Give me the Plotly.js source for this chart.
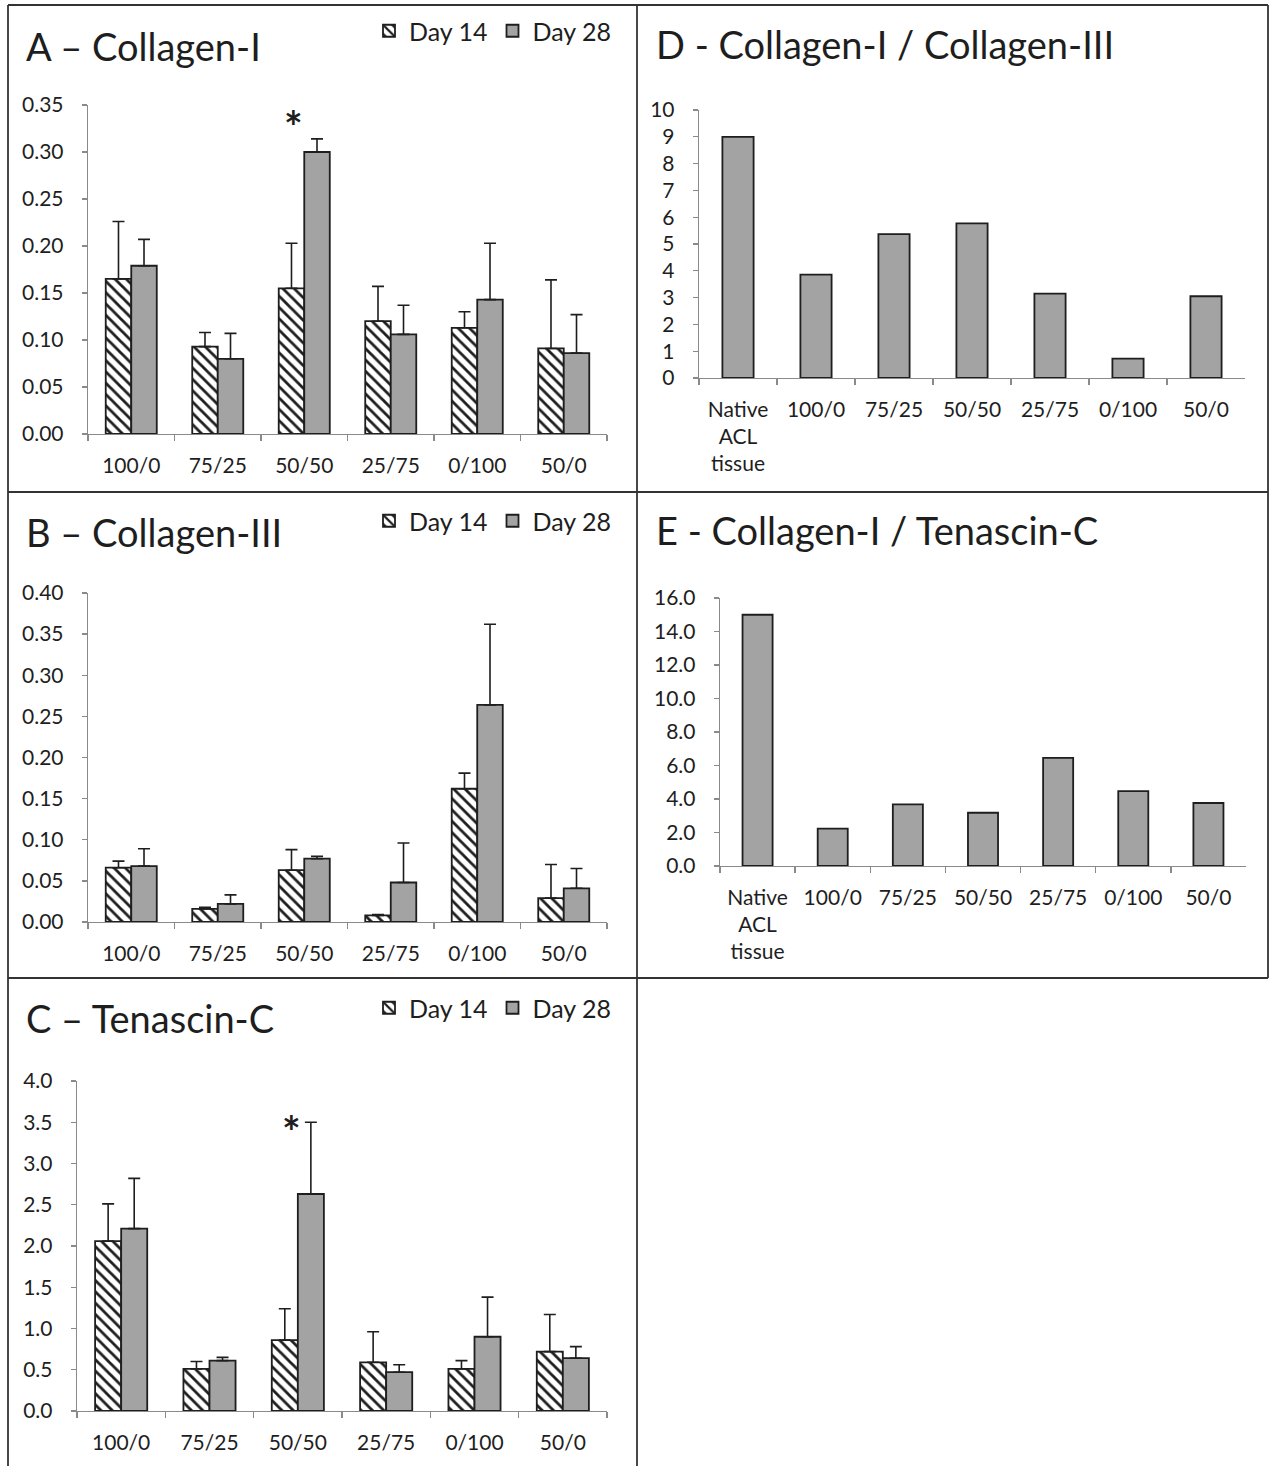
<!DOCTYPE html>
<html>
<head>
<meta charset="utf-8">
<script src="https://cdn.plot.ly/plotly-3.0.1.min.js"></script>
<style>
html,body{margin:0;padding:0;background:#fff;}
#chart{width:1269px;height:1466px;}
</style>
</head>
<body>
<div id="chart"></div>
<script>
// ---------- DATA ----------
const groups = ["100/0", "75/25", "50/50", "25/75", "0/100", "50/0"];
const ratioGroups = ["Native<br>ACL<br>tissue", "100/0", "75/25", "50/50", "25/75", "0/100", "50/0"];
const seriesNames = ["Day 14", "Day 28"];

// A - Collagen-I
const colI_day14 = [0.165, 0.093, 0.155, 0.120, 0.113, 0.091];
const colI_day14_sd = [0.061, 0.015, 0.048, 0.037, 0.017, 0.073];
const colI_day28 = [0.179, 0.080, 0.300, 0.106, 0.143, 0.086];
const colI_day28_sd = [0.028, 0.027, 0.014, 0.031, 0.060, 0.041];

// B - Collagen-III
const colIII_day14 = [0.066, 0.016, 0.063, 0.008, 0.162, 0.029];
const colIII_day14_sd = [0.008, 0.002, 0.025, 0.001, 0.019, 0.041];
const colIII_day28 = [0.068, 0.022, 0.077, 0.048, 0.264, 0.041];
const colIII_day28_sd = [0.021, 0.011, 0.003, 0.048, 0.098, 0.024];

// C - Tenascin-C
const tnc_day14 = [2.06, 0.51, 0.86, 0.59, 0.51, 0.72];
const tnc_day14_sd = [0.45, 0.09, 0.38, 0.37, 0.10, 0.45];
const tnc_day28 = [2.21, 0.61, 2.63, 0.47, 0.90, 0.64];
const tnc_day28_sd = [0.61, 0.04, 0.87, 0.09, 0.48, 0.14];

// D - Collagen-I / Collagen-III
const ratio_colI_colIII = [9.0, 3.86, 5.37, 5.77, 3.15, 0.72, 3.05];
// E - Collagen-I / Tenascin-C
const ratio_colI_tnc = [15.0, 2.23, 3.68, 3.18, 6.46, 4.47, 3.76];

// significance markers: [group, value]
const sigA = ["50/50", 0.336];
const sigC = ["50/50", 3.49];

const panelTitles = ["A – Collagen-I", "B – Collagen-III", "C – Tenascin-C",
  "D - Collagen-I / Collagen-III", "E - Collagen-I / Tenascin-C"];

// ---------- STYLE / LAYOUT ----------
const W = 1269, H = 1466;
const FONT = "Lato, 'Open Sans', sans-serif";
const TXT = "#1e1e1e";
const AXC = "#8a8a8a";
const GRAY = "#a3a3a3";
const EDGE = "#1e1e1e";
const px = v => v / W;
const py = v => 1 - v / H;

function zeros(n){ return new Array(n).fill(0); }

function dayTraces(xa, ya, d14, sd14, d28, sd28, leg, showLeg){
  const err = sd => ({type:"data", symmetric:false, array:sd, arrayminus:zeros(sd.length),
                      color:EDGE, thickness:1.6, width:6});
  return [
    {type:"bar", name:seriesNames[0], x:groups, y:d14, xaxis:xa, yaxis:ya, legend:leg,
     showlegend:showLeg,
     marker:{color:"#ffffff", line:{color:EDGE, width:1.8},
             pattern:{shape:"\\", fgcolor:"#1e1e1e", bgcolor:"#ffffff", size:8, solidity:0.35}},
     error_y:err(sd14), hoverinfo:"x+y"},
    {type:"bar", name:seriesNames[1], x:groups, y:d28, xaxis:xa, yaxis:ya, legend:leg,
     showlegend:showLeg,
     marker:{color:GRAY, line:{color:EDGE, width:1.8}},
     error_y:err(sd28), hoverinfo:"x+y"}
  ];
}

function ratioTrace(xa, ya, vals){
  return {type:"bar", x:ratioGroups, y:vals, xaxis:xa, yaxis:ya, width:0.4, showlegend:false,
          marker:{color:GRAY, line:{color:EDGE, width:1.8}}, hoverinfo:"y"};
}

const data = [].concat(
  dayTraces("x", "y", colI_day14, colI_day14_sd, colI_day28, colI_day28_sd, "legend", true),
  dayTraces("x2", "y2", colIII_day14, colIII_day14_sd, colIII_day28, colIII_day28_sd, "legend2", true),
  dayTraces("x3", "y3", tnc_day14, tnc_day14_sd, tnc_day28, tnc_day28_sd, "legend3", true),
  [ratioTrace("x4", "y4", ratio_colI_colIII), ratioTrace("x5", "y5", ratio_colI_tnc)]
);

function xAx(dom, anchor){
  return {domain:dom, anchor:anchor, type:"category", showline:true, linecolor:AXC, linewidth:1.3,
          ticks:"outside", tickson:"boundaries", ticklen:6, tickcolor:AXC, tickwidth:1.3,
          ticklabelstandoff:12, showgrid:false, zeroline:false, fixedrange:true,
          tickfont:{family:FONT, size:21, color:TXT}};
}
function yAx(dom, anchor, range, dtick, fmt){
  return {domain:dom, anchor:anchor, range:range, dtick:dtick, tick0:0, tickformat:fmt,
          showline:true, linecolor:AXC, linewidth:1.3, ticks:"outside", ticklen:5, tickcolor:AXC,
          tickwidth:1.3, ticklabelstandoff:14, showgrid:false, zeroline:false, fixedrange:true,
          tickfont:{family:FONT, size:21, color:TXT}};
}

const legendBase = (yc) => ({orientation:"h", x:px(369), y:py(yc), xanchor:"left", yanchor:"middle",
  font:{family:FONT, size:25, color:TXT}, bgcolor:"rgba(0,0,0,0)", borderwidth:0,
  itemclick:false, itemdoubleclick:false, traceorder:"normal"});

// panel frame lines (pixel positions)
const frameLines = [
  [8, 5, 1268, 5], [8, 5, 8, 1466], [637, 5, 637, 1466], [1268, 5, 1268, 978],
  [8, 492, 1268, 492], [8, 978, 1268, 978]
];
const shapes = frameLines.map(l => ({type:"line", xref:"paper", yref:"paper",
  x0:px(l[0]), y0:py(l[1]), x1:px(l[2]), y1:py(l[3]), line:{color:"#333333", width:1.8}}));

const titlePos = [[24, 46], [24, 532], [24, 1018], [654, 44], [654, 530]];
const annotations = panelTitles.map((t, i) => ({text:t, xref:"paper", yref:"paper",
  x:px(titlePos[i][0]), y:py(titlePos[i][1]), xanchor:"left", yanchor:"middle", showarrow:false,
  font:{family:FONT, size:38, color:TXT}}));
annotations.push({text:"<b>*</b>", xref:"x", yref:"y", x:sigA[0], y:sigA[1], xshift:-11, yshift:-8,
  showarrow:false, font:{family:FONT, size:44, color:TXT}});
annotations.push({text:"<b>*</b>", xref:"x3", yref:"y3", x:sigC[0], y:sigC[1], xshift:-6, yshift:-8,
  showarrow:false, font:{family:FONT, size:44, color:TXT}});

const layout = {
  width:W, height:H, margin:{l:0, r:0, t:0, b:0, pad:0},
  paper_bgcolor:"#ffffff", plot_bgcolor:"#ffffff",
  barmode:"group", bargap:0.41, bargroupgap:0,
  font:{family:FONT, color:TXT},
  xaxis: xAx([px(88), px(607)], "y"),
  yaxis: yAx([py(434), py(105)], "x", [0, 0.35], 0.05, ".2f"),
  xaxis2: xAx([px(88), px(607)], "y2"),
  yaxis2: yAx([py(922), py(593)], "x2", [0, 0.40], 0.05, ".2f"),
  xaxis3: xAx([px(77), px(607)], "y3"),
  yaxis3: yAx([py(1411), py(1081)], "x3", [0, 4.0], 0.5, ".1f"),
  xaxis4: xAx([px(699), px(1245)], "y4"),
  yaxis4: yAx([py(378), py(110)], "x4", [0, 10], 1, "d"),
  xaxis5: xAx([px(720), px(1246)], "y5"),
  yaxis5: yAx([py(866), py(598)], "x5", [0, 16], 2, ".1f"),
  legend: legendBase(31),
  legend2: legendBase(521),
  legend3: legendBase(1008),
  shapes: shapes,
  annotations: annotations
};

Plotly.newPlot("chart", data, layout, {displayModeBar:false, staticPlot:true});
</script>
</body>
</html>
